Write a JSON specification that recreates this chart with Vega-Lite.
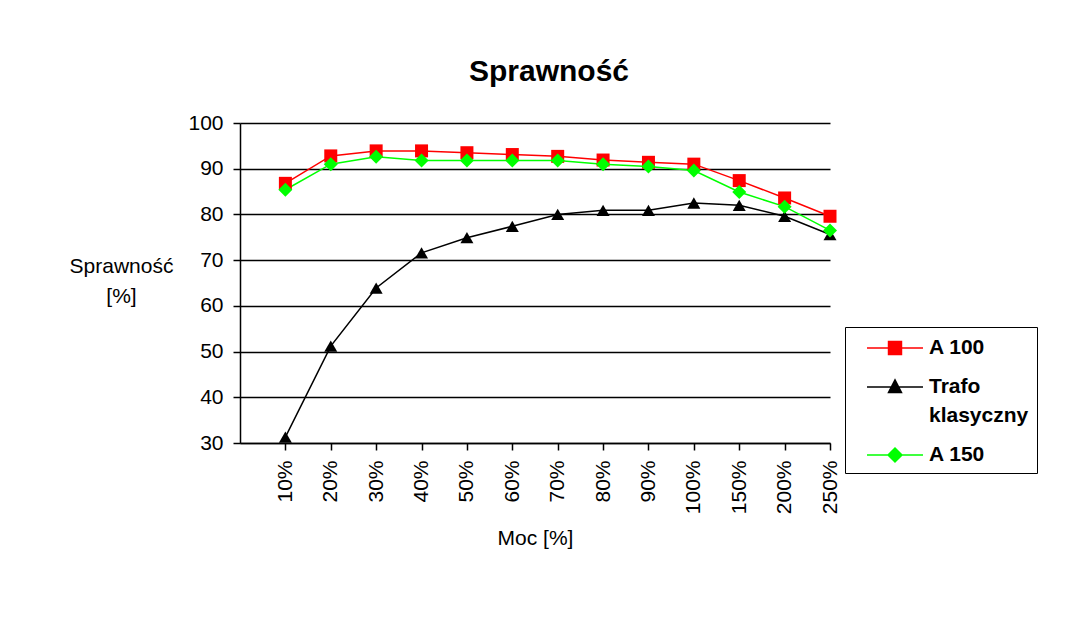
{
  "$schema": "https://vega.github.io/schema/vega-lite/v6.json",
  "width": 590,
  "height": 320,
  "autosize": {"type": "none"},
  "padding": {"left": 240, "top": 123, "right": 249, "bottom": 178},
  "background": "white",
  "title": {"text": "Sprawność", "font": "Liberation Sans", "fontSize": 30, "fontWeight": "bold", "color": "black", "frame": "group", "baseline": "alphabetic", "offset": 1, "dx": 14},
  "data": {"values": [
    {"moc": "10%", "series": "A 100", "value": 86.8},
    {"moc": "20%", "series": "A 100", "value": 92.8},
    {"moc": "30%", "series": "A 100", "value": 93.9},
    {"moc": "40%", "series": "A 100", "value": 93.9},
    {"moc": "50%", "series": "A 100", "value": 93.5},
    {"moc": "60%", "series": "A 100", "value": 93.1},
    {"moc": "70%", "series": "A 100", "value": 92.7},
    {"moc": "80%", "series": "A 100", "value": 91.9},
    {"moc": "90%", "series": "A 100", "value": 91.4},
    {"moc": "100%", "series": "A 100", "value": 91.0},
    {"moc": "150%", "series": "A 100", "value": 87.4},
    {"moc": "200%", "series": "A 100", "value": 83.6},
    {"moc": "250%", "series": "A 100", "value": 79.6},
    {"moc": "10%", "series": "Trafo klasyczny", "value": 31.3},
    {"moc": "20%", "series": "Trafo klasyczny", "value": 51.2},
    {"moc": "30%", "series": "Trafo klasyczny", "value": 63.9},
    {"moc": "40%", "series": "Trafo klasyczny", "value": 71.6},
    {"moc": "50%", "series": "Trafo klasyczny", "value": 74.9},
    {"moc": "60%", "series": "Trafo klasyczny", "value": 77.4},
    {"moc": "70%", "series": "Trafo klasyczny", "value": 80.0},
    {"moc": "80%", "series": "Trafo klasyczny", "value": 80.9},
    {"moc": "90%", "series": "Trafo klasyczny", "value": 80.9},
    {"moc": "100%", "series": "Trafo klasyczny", "value": 82.5},
    {"moc": "150%", "series": "Trafo klasyczny", "value": 82.0},
    {"moc": "200%", "series": "Trafo klasyczny", "value": 79.6},
    {"moc": "250%", "series": "Trafo klasyczny", "value": 75.6},
    {"moc": "10%", "series": "A 150", "value": 85.4},
    {"moc": "20%", "series": "A 150", "value": 91.0},
    {"moc": "30%", "series": "A 150", "value": 92.6},
    {"moc": "40%", "series": "A 150", "value": 91.8},
    {"moc": "50%", "series": "A 150", "value": 91.8},
    {"moc": "60%", "series": "A 150", "value": 91.8},
    {"moc": "70%", "series": "A 150", "value": 91.8},
    {"moc": "80%", "series": "A 150", "value": 91.0},
    {"moc": "90%", "series": "A 150", "value": 90.5},
    {"moc": "100%", "series": "A 150", "value": 89.6},
    {"moc": "150%", "series": "A 150", "value": 84.9},
    {"moc": "200%", "series": "A 150", "value": 81.7},
    {"moc": "250%", "series": "A 150", "value": 76.5}
  ]},
  "encoding": {
    "x": {
      "field": "moc", "type": "nominal",
      "sort": ["10%", "20%", "30%", "40%", "50%", "60%", "70%", "80%", "90%", "100%", "150%", "200%", "250%"],
      "scale": {"type": "point", "padding": 0.5, "align": 1},
      "axis": {
        "title": "Moc [%]", "titleFont": "Liberation Sans", "titleFontSize": 21, "titleFontWeight": "normal", "titleColor": "black",
        "titleX": 295, "titleY": 95, "titleBaseline": "middle", "titleAlign": "center",
        "labelAngle": -90, "labelFont": "Liberation Sans", "labelFontSize": 21, "labelColor": "black", "labelPadding": 10,
        "tickSize": 7, "tickColor": "black", "tickWidth": 1.5, "domainColor": "black", "domainWidth": 1.5, "grid": false
      }
    },
    "y": {
      "field": "value", "type": "quantitative",
      "scale": {"domain": [30, 100], "zero": false, "nice": false},
      "axis": {
        "values": [30, 40, 50, 60, 70, 80, 90, 100],
        "title": ["Sprawność", "[%]"], "titleFont": "Liberation Sans", "titleFontSize": 21, "titleFontWeight": "normal", "titleColor": "black",
        "titleAngle": 0, "titleX": -119, "titleY": 132, "titleAlign": "center", "titleBaseline": "top", "titleLineHeight": 30,
        "labelFont": "Liberation Sans", "labelFontSize": 21, "labelColor": "black", "labelPadding": 10,
        "tickSize": 7, "tickColor": "black", "tickWidth": 1.5, "domainColor": "black", "domainWidth": 1.5,
        "grid": true, "gridColor": "black", "gridWidth": 1.5, "gridOpacity": 1
      }
    }
  },
  "layer": [
    {
      "mark": {"type": "line", "strokeWidth": 1.5},
      "encoding": {
        "color": {
          "field": "series", "type": "nominal",
          "scale": {"domain": ["A 100", "Trafo klasyczny", "A 150"], "range": ["#ff0000", "#000000", "#00ff00"]},
          "legend": {
            "title": null, "orient": "none", "legendX": 605, "legendY": 204,
            "strokeColor": "black", "fillColor": "white", "padding": 8,
            "labelFont": "Liberation Sans", "labelFontSize": 21, "labelFontWeight": "bold", "labelColor": "black", "labelOffset": 21,
            "labelExpr": "datum.label == 'Trafo klasyczny' ? ['Trafo', 'klasyczny'] : datum.label",
            "rowPadding": 16, "symbolSize": 576, "symbolStrokeWidth": 1.5, "symbolOffset": 29,
            "encode": {
              "symbols": {"update": {
                "shape": {"signal": "datum.value === 'A 100' ? 'M-2.333,0H2.333M-0.54,-0.54H0.54V0.54H-0.54Z' : datum.value === 'A 150' ? 'M-2.333,0H2.333M0,-0.58L0.58,0L0,0.58L-0.58,0Z' : 'M-2.333,0H2.333M0,-0.6L0.54,0.45L-0.54,0.45Z'"},
                "fill": {"signal": "scale('color', datum.value)"},
                "stroke": {"signal": "scale('color', datum.value)"},
                "size": {"value": 576},
                "opacity": {"value": 1},
                "fillOpacity": {"value": 1},
                "strokeOpacity": {"value": 1},
                "strokeWidth": {"value": 1.5}
              }},
              "labels": {"update": {"lineHeight": {"value": 29}}}
            }
          }
        }
      }
    },
    {
      "transform": [{"filter": "datum.series === 'A 100'"}],
      "mark": {"type": "point", "filled": true, "opacity": 1, "shape": "square", "size": 169, "color": "#ff0000"}
    },
    {
      "transform": [{"filter": "datum.series === 'Trafo klasyczny'"}],
      "mark": {"type": "point", "filled": true, "opacity": 1, "shape": "triangle-up", "size": 169, "color": "#000000"}
    },
    {
      "transform": [{"filter": "datum.series === 'A 150'"}],
      "mark": {"type": "point", "filled": true, "opacity": 1, "shape": "diamond", "size": 196, "color": "#00ff00"}
    }
  ],
  "config": {
    "view": {"stroke": null},
    "font": "Liberation Sans"
  }
}
